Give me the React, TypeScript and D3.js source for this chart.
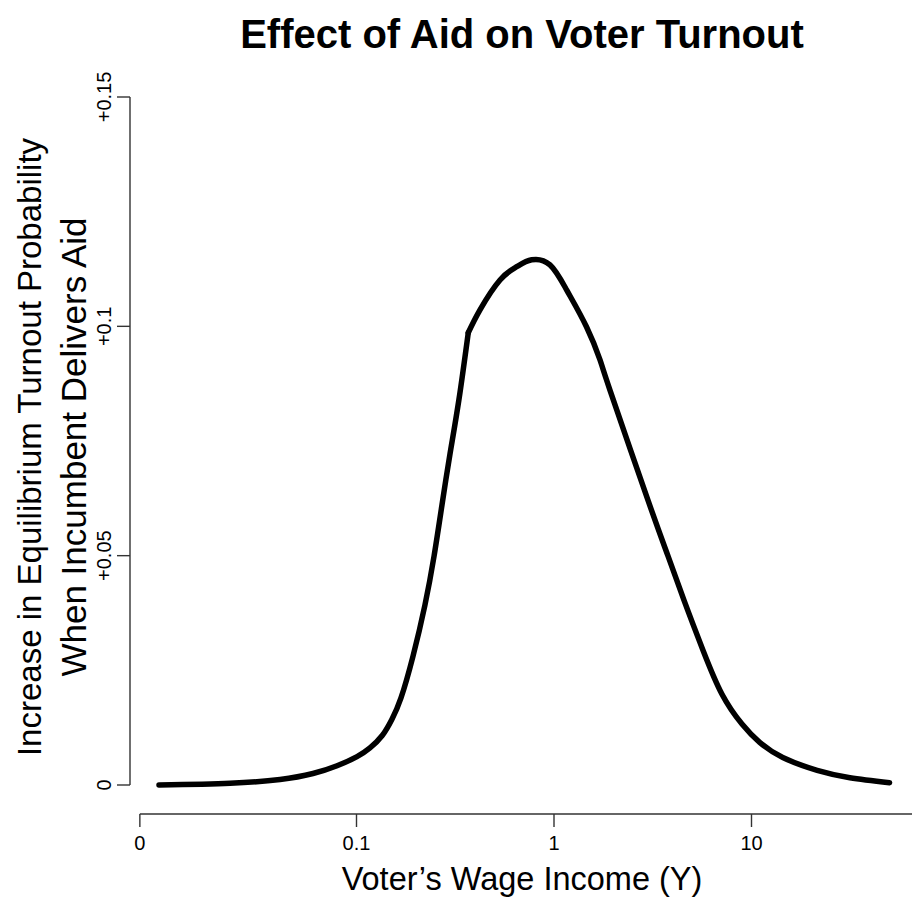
import React from "react";
import * as d3 from "d3";

// Voter's wage income (log scale) and the matching increase in turnout probability
const income = [
  0.01, 0.0229, 0.041, 0.0602, 0.0797, 0.1006, 0.117, 0.135, 0.151, 0.168,
  0.193, 0.222, 0.247, 0.271, 0.297, 0.33, 0.368, 0.422, 0.533, 0.647, 0.771,
  0.954, 1.16, 1.46, 1.71, 1.92, 2.99, 3.78, 4.55, 5.68, 7.09, 8.95, 11.0, 14.4,
  21.5, 31.5, 50,
];
const turnoutGain = [
  0, 0.0004, 0.0012, 0.0025, 0.0042, 0.0062, 0.0081, 0.0108, 0.0143, 0.019,
  0.028, 0.0392, 0.0499, 0.0611, 0.072, 0.084, 0.0986, 0.1036, 0.1101, 0.113,
  0.1145, 0.1134, 0.1079, 0.0999, 0.0927, 0.0861, 0.0621, 0.0499, 0.0403,
  0.0294, 0.0198, 0.0133, 0.0093, 0.006, 0.0032, 0.0016, 0.0005,
];
// income level where the curve has a corner
const kinkIncome = 0.368;

const xTickValues = [0.008, 0.1, 1, 10];
const xTickLabels = ["0", "0.1", "1", "10"];
const yTickValues = [0, 0.05, 0.1, 0.15];
const yTickLabels = ["0", "+0.05", "+0.1", "+0.15"];

const W = 912;
const H = 905;
const FONT = "'Liberation Sans', Arial, Helvetica, sans-serif";

export default function App() {
  const x = d3.scaleLog().domain([0.1, 10]).range([356.5, 751.5]);
  const y = d3.scaleLinear().domain([0, 0.15]).range([785, 97]);
  const axisY = 814;
  const axisX = 130;

  const pts = income.map((v, i) => ({ inc: v, gain: turnoutGain[i] }));
  const left = pts.filter((p) => p.inc <= kinkIncome);
  const right = pts.filter((p) => p.inc >= kinkIncome);
  const line = d3
    .line<{ inc: number; gain: number }>()
    .x((p) => x(p.inc))
    .y((p) => y(p.gain))
    .curve(d3.curveNatural);

  const plotCenterX = 522;
  const yMid = 447;

  return (
    <svg
      width={W}
      height={H}
      style={{ position: "absolute", left: 0, top: 0, background: "#fff" }}
      fontFamily={FONT}
    >
      <rect x={0} y={0} width={W} height={H} fill="#fff" />
      <text
        x={plotCenterX}
        y={48}
        textAnchor="middle"
        fontSize={40}
        fontWeight="bold"
        fill="#000"
      >
        Effect of Aid on Voter Turnout
      </text>

      {/* x axis */}
      <line
        x1={x(xTickValues[0])}
        x2={W}
        y1={axisY}
        y2={axisY}
        stroke="#333"
        strokeWidth={1.4}
      />
      {xTickValues.map((t, i) => (
        <g key={"xt" + i}>
          <line
            x1={x(t)}
            x2={x(t)}
            y1={axisY}
            y2={axisY + 13}
            stroke="#333"
            strokeWidth={1.4}
          />
          <text
            x={x(t)}
            y={850}
            textAnchor="middle"
            fontSize={20}
            fill="#000"
          >
            {xTickLabels[i]}
          </text>
        </g>
      ))}
      <text
        x={plotCenterX}
        y={890}
        textAnchor="middle"
        fontSize={32.5}
        fill="#000"
      >
        Voter’s Wage Income (Y)
      </text>

      {/* y axis */}
      <line
        x1={axisX}
        x2={axisX}
        y1={y(yTickValues[0])}
        y2={y(yTickValues[yTickValues.length - 1])}
        stroke="#333"
        strokeWidth={1.4}
      />
      {yTickValues.map((t, i) => (
        <g key={"yt" + i}>
          <line
            x1={axisX - 13}
            x2={axisX}
            y1={y(t)}
            y2={y(t)}
            stroke="#333"
            strokeWidth={1.4}
          />
          <text
            transform={`translate(111,${y(t)}) rotate(-90)`}
            textAnchor="middle"
            fontSize={20}
            fill="#000"
          >
            {yTickLabels[i]}
          </text>
        </g>
      ))}
      <text
        transform={`translate(41,${yMid}) rotate(-90)`}
        textAnchor="middle"
        fontSize={33}
        fill="#000"
      >
        Increase in Equilibrium Turnout Probability
      </text>
      <text
        transform={`translate(86,${yMid}) rotate(-90)`}
        textAnchor="middle"
        fontSize={35}
        fill="#000"
      >
        When Incumbent Delivers Aid
      </text>

      {/* effect curve */}
      <path
        d={line(left) || ""}
        fill="none"
        stroke="#000"
        strokeWidth={5.5}
        strokeLinecap="round"
        strokeLinejoin="round"
      />
      <path
        d={line(right) || ""}
        fill="none"
        stroke="#000"
        strokeWidth={5.5}
        strokeLinecap="round"
        strokeLinejoin="round"
      />
    </svg>
  );
}
